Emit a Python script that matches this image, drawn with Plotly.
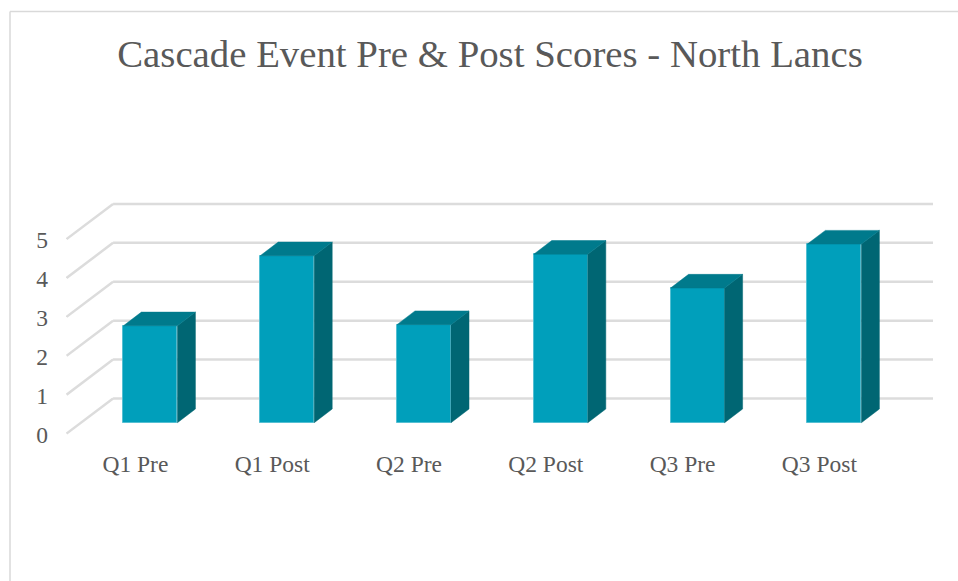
import plotly.graph_objects as go

categories = ["Q1 Pre", "Q1 Post", "Q2 Pre", "Q2 Post", "Q3 Pre", "Q3 Post"]
scores = [2.49, 4.29, 2.52, 4.33, 3.46, 4.59]
value_ticks = [0, 1, 2, 3, 4, 5]
title_text = "Cascade Event Pre & Post Scores - North Lancs"

FONT = "Liberation Serif"
TEXT = "#595959"
GRID = "#DCDCDC"
FRONT = "#009FBB"
SIDE = "#006673"
TOP = "#007A8C"

W, H = 958, 581
ML, MR, MT, MB = 66, 25, 190, 140
X_RANGE = [-0.617, 5.721]
Y_RANGE = [-0.47, 5.98]
BAR_W = 0.395
DX, DY = 0.1316, 0.352          # bar depth in axis units
WALL_X, WALL_Y = -0.273, 0.622  # back-wall origin in axis units
EDGE_X, EDGE_Y = -0.613, -0.28  # front floor edge in axis units

xs = list(range(len(categories)))

def quads(points_of):
    px, py = [], []
    for x, v in zip(xs, scores):
        for a, b in points_of(x, v):
            px.append(a); py.append(b)
        px.append(None); py.append(None)
    return px, py

def side(x, v):
    r = x + BAR_W / 2
    return [(r, 0), (r + DX, DY), (r + DX, v + DY), (r, v), (r, 0)]

def top(x, v):
    l, r = x - BAR_W / 2, x + BAR_W / 2
    return [(l, v), (l + DX, v + DY), (r + DX, v + DY), (r, v), (l, v)]

fig = go.Figure()
sx, sy = quads(side)
fig.add_trace(go.Scatter(x=sx, y=sy, mode="lines", fill="toself", fillcolor=SIDE,
                         line=dict(color=SIDE, width=0.5), hoverinfo="skip", showlegend=False))
tx, ty = quads(top)
fig.add_trace(go.Scatter(x=tx, y=ty, mode="lines", fill="toself", fillcolor=TOP,
                         line=dict(color=TOP, width=0.5), hoverinfo="skip", showlegend=False))
fig.add_trace(go.Bar(x=xs, y=scores, width=BAR_W, marker=dict(color=FRONT, line=dict(color="#55BFD2", width=1)),
                     showlegend=False))

shapes = []
for v in value_ticks:
    line = dict(color=GRID, width=2.5)
    shapes.append(dict(type="line", layer="below", xref="x", yref="y", x0=WALL_X, x1=X_RANGE[1],
                       y0=v + WALL_Y, y1=v + WALL_Y, line=line))
    shapes.append(dict(type="line", layer="below", xref="x", yref="y", x0=EDGE_X, x1=WALL_X,
                       y0=v + EDGE_Y, y1=v + WALL_Y, line=line))

pw, ph = W - ML - MR, H - MT - MB
px0 = (10 - ML) / pw
py1 = 1 + (MT - 11.5) / ph
py0 = (H - MT - ph - H - 5) / ph
border = dict(color="#D9D9D9", width=1.5)
shapes.append(dict(type="line", xref="paper", yref="paper", x0=px0, x1=px0, y0=py0, y1=py1, line=border))
shapes.append(dict(type="line", xref="paper", yref="paper", x0=px0, x1=1.1, y0=py1, y1=py1, line=border))

fig.update_layout(
    width=W, height=H, margin=dict(l=ML, r=MR, t=MT, b=MB, autoexpand=False),
    paper_bgcolor="white", plot_bgcolor="white",
    font=dict(family=FONT, color=TEXT),
    title=dict(text=title_text, x=490 / W, xanchor="center", y=1 - 53 / H, yanchor="middle",
               font=dict(family=FONT, size=38.8, color=TEXT)),
    shapes=shapes, showlegend=False, bargap=0,
    xaxis=dict(range=X_RANGE, tickmode="array", tickvals=xs, ticktext=categories, showgrid=False,
               zeroline=False, showline=False, ticks="", ticklabelshift=-15, ticklabelstandoff=6,
               tickfont=dict(family=FONT, size=23.5, color=TEXT)),
    yaxis=dict(range=Y_RANGE, tickmode="array", tickvals=value_ticks, ticktext=[str(v) for v in value_ticks],
               showgrid=False, zeroline=False, showline=False, ticks="", ticklabelshift=12,
               ticklabelstandoff=17, tickfont=dict(family=FONT, size=23.5, color=TEXT)),
)

fig.write_html("out.html", config=dict(displayModeBar=False),
               post_script="document.body.style.margin='0';")
